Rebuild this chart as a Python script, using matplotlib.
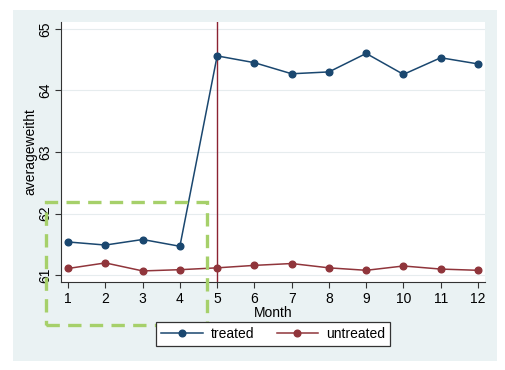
import matplotlib
import matplotlib.pyplot as plt
from matplotlib.patches import Rectangle

matplotlib.use('agg')
plt.rcParams['font.family'] = ['Liberation Sans', 'DejaVu Sans']

months = [1, 2, 3, 4, 5, 6, 7, 8, 9, 10, 11, 12]
treated = [61.54, 61.49, 61.58, 61.47, 64.56, 64.45, 64.27, 64.30, 64.60, 64.26, 64.53, 64.43]
untreated = [61.11, 61.20, 61.07, 61.09, 61.12, 61.16, 61.19, 61.12, 61.08, 61.15, 61.10, 61.08]
yticks = [61, 62, 63, 64, 65]

fig = plt.figure(figsize=(5.06, 3.70), dpi=100)
fig.patches.append(Rectangle((0.026, 0.024), 0.956, 0.949, transform=fig.transFigure,
                             facecolor='#eaf2f3', edgecolor='none', zorder=-10))
ax = fig.add_axes([0.1206, 0.2378, 0.838, 0.7027])
ax.set_facecolor('white')

ax.grid(axis='y', color='#e6ecee', linewidth=0.8)
ax.set_axisbelow(True)
ax.axvline(5, color='#8b2232', linewidth=1.0, zorder=1)
ax.plot(months, treated, color='#1a476f', linewidth=1.1, marker='o', markersize=4.8, label='treated', zorder=3)
ax.plot(months, untreated, color='#90353b', linewidth=1.1, marker='o', markersize=4.8, label='untreated', zorder=3)

ax.add_patch(Rectangle((0.41, 60.19), 4.32, 2.0, fill=False, edgecolor='#a6d06a',
                       linewidth=2.4, linestyle=(0, (4, 2.5)), clip_on=False, zorder=4))

ax.set_xlim(0.81, 12.19)
ax.set_ylim(60.89, 65.11)
ax.set_xticks(months)
ax.set_yticks(yticks)
ax.set_yticklabels([str(t) for t in yticks], rotation=90, va='center')
ax.tick_params(labelsize=10, length=4, color='#333333')
ax.tick_params(axis='y', pad=2)
ax.spines['top'].set_visible(False)
ax.spines['right'].set_visible(False)
ax.spines['left'].set_color('#333333')
ax.spines['bottom'].set_color('#333333')
ax.set_xlabel('Month', fontsize=10, labelpad=0)
ax.set_ylabel('averageweitht', fontsize=10, labelpad=1)

leg = fig.legend(loc='center', bbox_to_anchor=(0.54, 0.097), ncol=2, fontsize=10,
                 fancybox=False, edgecolor='#333333', framealpha=1, handlelength=3.0,
                 handletextpad=0.6, columnspacing=1.6, borderpad=0.35)
leg.get_frame().set_linewidth(0.9)

plt.savefig('out.png')
